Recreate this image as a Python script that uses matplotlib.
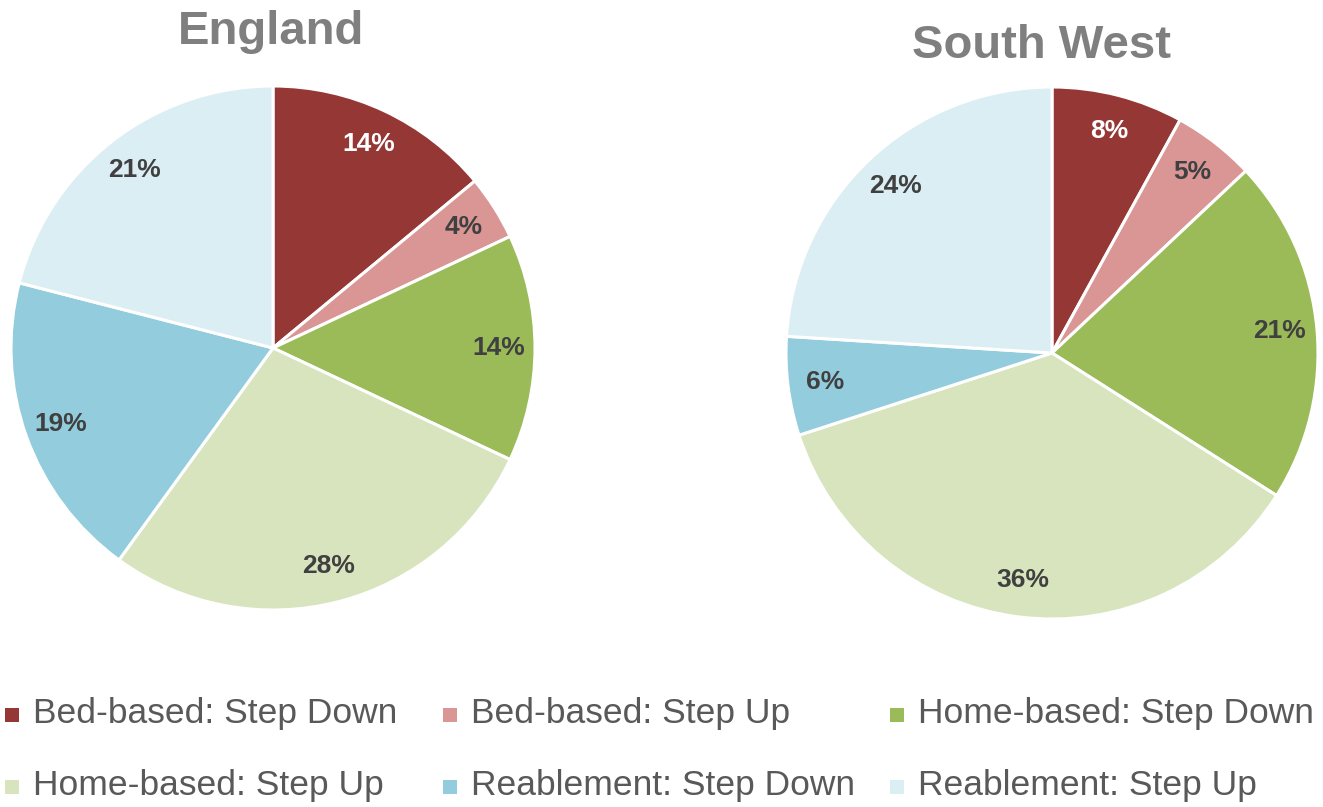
import matplotlib.pyplot as plt
from matplotlib.patches import Rectangle

categories = ["Bed-based: Step Down", "Bed-based: Step Up", "Home-based: Step Down",
              "Home-based: Step Up", "Reablement: Step Down", "Reablement: Step Up"]
england = [14, 4, 14, 28, 19, 21]
south_west = [8, 5, 21, 36, 6, 24]
colors = ["#953735", "#D99694", "#9BBB59", "#D7E4BD", "#93CDDD", "#DBEEF4"]

W, H = 1323, 807
fig = plt.figure(figsize=(W / 100, H / 100), dpi=100)


def draw_pie(cx, cy, r, values, title, title_x, title_base):
    ax = fig.add_axes([(cx - r) / W, 1 - (cy + r) / H, 2 * r / W, 2 * r / H])
    wedges, texts, autotexts = ax.pie(
        values, colors=colors, startangle=90, counterclock=False,
        autopct=lambda p: "%d%%" % round(p), pctdistance=0.86,
        wedgeprops=dict(edgecolor="white", linewidth=2.2))
    for i, t in enumerate(autotexts):
        t.set_fontsize(19)
        t.set_fontweight("bold")
        t.set_family("Liberation Sans")
        t.set_color("white" if i == 0 else "#404040")
    ax.set_xlim(-1, 1)
    ax.set_ylim(-1, 1)
    ax.set_aspect("equal")
    ax.axis("off")
    fig.text(title_x / W, 1 - title_base / H, title, ha="center", va="baseline",
             fontsize=34, fontweight="bold", color="#7F7F7F", family="Liberation Sans")


draw_pie(273, 348, 262, england, "England", 271, 44)
draw_pie(1052, 353, 266, south_west, "South West", 1042, 58)

# legend, two rows of three
col_x = [5, 443, 890]
row_y = [715, 787]
for i, name in enumerate(categories):
    x = col_x[i % 3]
    y = row_y[i // 3]
    fig.patches.append(Rectangle((x / W, 1 - (y + 7) / H), 14 / W, 14 / H,
                                 transform=fig.transFigure, facecolor=colors[i],
                                 edgecolor="none"))
    fig.text((x + 28) / W, 1 - (y - 1) / H, name, ha="left", va="center",
             fontsize=25.5, color="#595959", family="Liberation Sans")

fig.savefig("out.png", dpi=100)
